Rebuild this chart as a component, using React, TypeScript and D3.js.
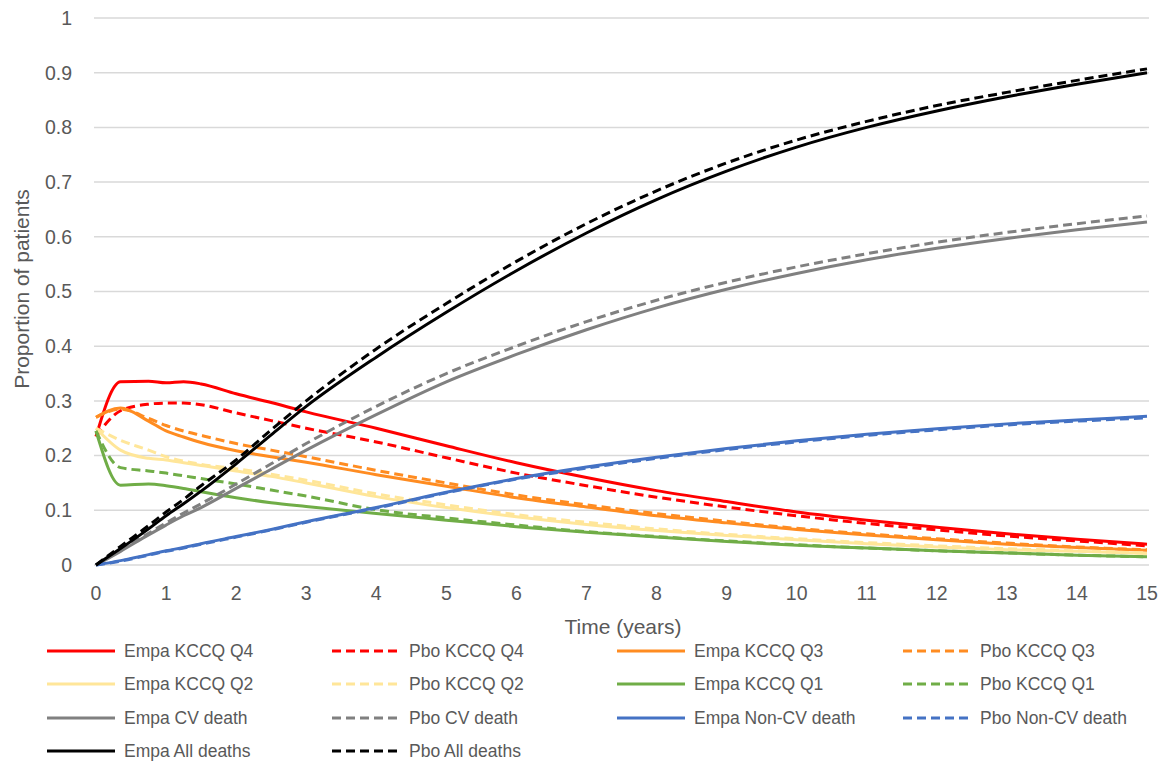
import React from "react";
import * as d3 from "d3";

const years = [0, 0.35, 0.75, 1, 1.25, 1.5, 2, 2.5, 3, 4, 5, 6, 7, 8, 9, 10, 11, 12, 13, 14, 15];

const empaQ4 = [0.235, 0.335, 0.336, 0.333, 0.335, 0.331, 0.313, 0.297, 0.28, 0.25, 0.218, 0.187, 0.16, 0.136, 0.116, 0.097, 0.082, 0.069, 0.057, 0.047, 0.038];
const pboQ4 = [0.235, 0.282, 0.294, 0.296, 0.296, 0.293, 0.278, 0.264, 0.25, 0.225, 0.196, 0.168, 0.145, 0.124, 0.106, 0.09, 0.076, 0.064, 0.053, 0.044, 0.035];
const empaQ3 = [0.27, 0.287, 0.263, 0.245, 0.234, 0.224, 0.209, 0.198, 0.188, 0.165, 0.144, 0.123, 0.106, 0.09, 0.077, 0.065, 0.055, 0.046, 0.038, 0.032, 0.027];
const pboQ3 = [0.27, 0.285, 0.268, 0.255, 0.245, 0.237, 0.222, 0.21, 0.198, 0.173, 0.15, 0.128, 0.11, 0.094, 0.08, 0.067, 0.057, 0.048, 0.04, 0.033, 0.028];
const empaQ2 = [0.25, 0.21, 0.195, 0.192, 0.187, 0.182, 0.172, 0.162, 0.15, 0.125, 0.105, 0.088, 0.074, 0.063, 0.054, 0.046, 0.039, 0.033, 0.028, 0.025, 0.021];
const pboQ2 = [0.25, 0.228, 0.21, 0.198, 0.19, 0.184, 0.176, 0.166, 0.155, 0.13, 0.11, 0.092, 0.078, 0.066, 0.056, 0.048, 0.041, 0.035, 0.03, 0.026, 0.022];
const empaQ1 = [0.245, 0.146, 0.148, 0.145, 0.14, 0.134, 0.123, 0.114, 0.107, 0.094, 0.082, 0.07, 0.06, 0.051, 0.043, 0.036, 0.031, 0.026, 0.022, 0.018, 0.015];
const pboQ1 = [0.245, 0.178, 0.172, 0.168, 0.163, 0.158, 0.148, 0.137, 0.126, 0.101, 0.086, 0.073, 0.061, 0.052, 0.044, 0.037, 0.031, 0.026, 0.022, 0.018, 0.015];
const empaCV = [0, 0.025, 0.055, 0.073, 0.09, 0.105, 0.14, 0.175, 0.21, 0.275, 0.335, 0.385, 0.43, 0.47, 0.504, 0.533, 0.558, 0.579, 0.597, 0.613, 0.627];
const pboCV = [0, 0.027, 0.058, 0.077, 0.095, 0.112, 0.148, 0.185, 0.222, 0.29, 0.35, 0.4, 0.445, 0.484, 0.517, 0.545, 0.569, 0.59, 0.608, 0.624, 0.638];
const empaNonCV = [0, 0.008, 0.019, 0.026, 0.032, 0.039, 0.052, 0.065, 0.079, 0.105, 0.133, 0.158, 0.179, 0.197, 0.213, 0.227, 0.239, 0.249, 0.258, 0.265, 0.272];
const pboNonCV = [0, 0.007, 0.018, 0.025, 0.031, 0.038, 0.051, 0.064, 0.078, 0.104, 0.132, 0.157, 0.177, 0.195, 0.211, 0.225, 0.237, 0.247, 0.256, 0.263, 0.269];
const empaAll = [0, 0.03, 0.066, 0.09, 0.112, 0.135, 0.185, 0.238, 0.29, 0.38, 0.462, 0.538, 0.607, 0.668, 0.72, 0.764, 0.8, 0.83, 0.856, 0.879, 0.9];
const pboAll = [0, 0.034, 0.072, 0.097, 0.12, 0.145, 0.192, 0.247, 0.3, 0.395, 0.478, 0.555, 0.624, 0.684, 0.735, 0.777, 0.811, 0.84, 0.864, 0.886, 0.907];

const xTicks = d3.range(0, 16, 1);
const yTicks = d3.range(0, 11, 1).map((d) => d / 10);

const seriesNames = [
  "Empa KCCQ Q4", "Pbo KCCQ Q4", "Empa KCCQ Q3", "Pbo KCCQ Q3",
  "Empa KCCQ Q2", "Pbo KCCQ Q2", "Empa KCCQ Q1", "Pbo KCCQ Q1",
  "Empa CV death", "Pbo CV death", "Empa Non-CV death", "Pbo Non-CV death",
  "Empa All deaths", "Pbo All deaths",
];
const seriesValues = [
  empaQ4, pboQ4, empaQ3, pboQ3, empaQ2, pboQ2, empaQ1, pboQ1,
  empaCV, pboCV, empaNonCV, pboNonCV, empaAll, pboAll,
];
const seriesColors = [
  "#FF0000", "#FF0000", "#FF8C21", "#FF8C21", "#FFE699", "#FFE699",
  "#70AD47", "#70AD47", "#808080", "#808080", "#4472C4", "#4472C4",
  "#000000", "#000000",
];

const W = 1164;
const H = 762;
const FONT = "'Liberation Sans', Arial, sans-serif";
const TEXT = "#595959";

export default function App() {
  const x = d3.scaleLinear().domain([0, 15]).range([96, 1147]);
  const y = d3.scaleLinear().domain([0, 1]).range([565, 18]);
  const line = d3
    .line<[number, number]>()
    .x((d) => x(d[0]))
    .y((d) => y(d[1]))
    .curve(d3.curveMonotoneX);

  const legendCols = [47, 332, 617, 903];
  const legendRows = [651, 684, 718, 751];

  return (
    <svg
      width={W}
      height={H}
      style={{ position: "absolute", left: 0, top: 0, background: "#fff" }}
      fontFamily={FONT}
    >
      <rect x={0} y={0} width={W} height={H} fill="#fff" />
      {yTicks.map((t) => (
        <line key={"g" + t} x1={94} x2={1149} y1={y(t)} y2={y(t)} stroke="#D9D9D9" strokeWidth={1.5} />
      ))}
      {yTicks.map((t) => (
        <text key={"yt" + t} x={72} y={y(t)} dy="0.35em" textAnchor="end" fontSize={19.5} fill={TEXT}>
          {d3.format("")(t)}
        </text>
      ))}
      {xTicks.map((t) => (
        <text key={"xt" + t} x={x(t)} y={600} textAnchor="middle" fontSize={19.5} fill={TEXT}>
          {t}
        </text>
      ))}
      <text x={623} y={634} textAnchor="middle" fontSize={21} fill={TEXT}>
        Time (years)
      </text>
      <text
        transform={`translate(29,${289}) rotate(-90)`}
        textAnchor="middle"
        fontSize={21}
        fill={TEXT}
      >
        Proportion of patients
      </text>
      {seriesValues.map((vals, i) => (
        <path
          key={"s" + i}
          d={line(years.map((t, j) => [t, vals[j]] as [number, number])) || ""}
          fill="none"
          stroke={seriesColors[i]}
          strokeWidth={3}
          strokeDasharray={i % 2 === 1 ? "9,5" : undefined}
          strokeLinejoin="round"
        />
      ))}
      {seriesNames.map((name, i) => {
        const cx = legendCols[i % 4];
        const cy = legendRows[Math.floor(i / 4)];
        return (
          <g key={"l" + i}>
            <line
              x1={cx}
              x2={cx + 68}
              y1={cy}
              y2={cy}
              stroke={seriesColors[i]}
              strokeWidth={3}
              strokeDasharray={i % 2 === 1 ? "9,5" : undefined}
            />
            <text x={cx + 77} y={cy} dy="0.35em" fontSize={17.5} fill={TEXT}>
              {name}
            </text>
          </g>
        );
      })}
    </svg>
  );
}
